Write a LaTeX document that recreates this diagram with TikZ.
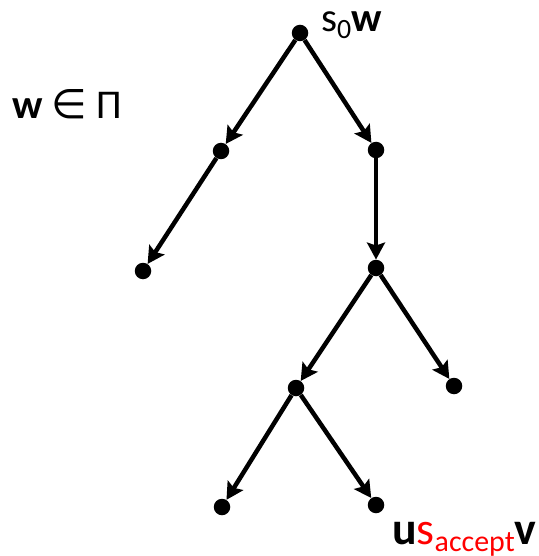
\documentclass[tikz,border=0pt]{standalone}
\usepackage{fontspec}
\setmainfont{Carlito}
\newfontfamily\symfont{DejaVu Sans}
\usetikzlibrary{arrows.meta}
\newcommand{\mysub}[2][28]{\raisebox{-7bp}{\fontsize{#1}{#1}\selectfont #2}}
\begin{document}
\begin{tikzpicture}[x=1bp,y=-1bp,
  dot/.style={circle,fill=black,inner sep=0pt,minimum size=16.5bp},
  edge/.style={line width=4.5bp,-{Stealth[length=17bp,width=18bp,inset=3bp]}},
  lbl/.style={inner sep=0pt,anchor=base west,font=\fontsize{41}{44}\selectfont}]
\useasboundingbox (0,0) rectangle (539,556);
\node[dot] (r) at (300,33) {};
\node[dot] (a) at (221,151) {};
\node[dot] (b) at (376,150) {};
\node[dot] (c) at (143,271) {};
\node[dot] (d) at (376,268) {};
\node[dot] (e) at (296,388) {};
\node[dot] (f) at (454,386) {};
\node[dot] (g) at (222,507) {};
\node[dot] (h) at (376,505) {};
\draw[edge] (r) -- (a);
\draw[edge] (r) -- (b);
\draw[edge] (a) -- (c);
\draw[edge] (b) -- (d);
\draw[edge] (d) -- (e);
\draw[edge] (d) -- (f);
\draw[edge] (e) -- (g);
\draw[edge] (e) -- (h);
\node[lbl] (t1) at (321,32) {s\mysub{0}\textbf{w}};
\node[lbl] (t2) at (12,119) {\textbf{w} {\symfont ∈} Π};
\node[lbl,font=\fontsize{46}{48}\selectfont] (t3) at (392,544) {\textbf{u}\textcolor{red}{s\mysub[30]{accept}}\textbf{v}};
\end{tikzpicture}
\end{document}
